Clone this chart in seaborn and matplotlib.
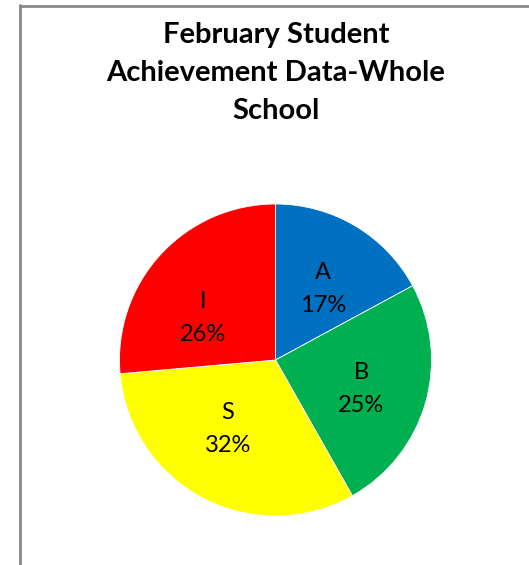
import matplotlib
matplotlib.use("Agg")
import numpy as np
import matplotlib.pyplot as plt
import seaborn as sns
from matplotlib.lines import Line2D

categories = ["A", "B", "S", "I"]
values = [17.1, 24.7, 31.8, 26.4]
colors = ["#0070C0", "#00B050", "#FFFF00", "#FF0000"]
title = "February Student\nAchievement Data-Whole\nSchool"

# label placement nudges (style): clockwise angle shift in degrees, radial distance
label_shift_deg = [3.0, 2.7, 6.7, -12.4]
label_dist = [0.547, 0.579, 0.537, 0.537]

sns.set_theme(style="white")
plt.rcParams["font.family"] = ["Lato", "DejaVu Sans"]
plt.rcParams["text.color"] = "black"

W, H = 529, 565
fig = plt.figure(figsize=(W / 100, H / 100), dpi=100)
fig.patch.set_facecolor("white")

R = 156
cx, cy = 275.5, 360
ax = fig.add_axes([(cx - R) / W, (H - cy - R) / H, 2 * R / W, 2 * R / H])

total = sum(values)
labels = [f"{c}\n{round(v * 100 / total)}%" for c, v in zip(categories, values)]
wedges, texts = ax.pie(values, colors=colors, startangle=90, counterclock=False,
                       labels=labels, labeldistance=0.56,
                       wedgeprops=dict(linewidth=0.6, edgecolor="white"),
                       textprops=dict(fontsize=17, color="black", ha="center", va="center",
                                      linespacing=1.7))
for w, t, dd, rr in zip(wedges, texts, label_shift_deg, label_dist):
    mid = np.deg2rad((w.theta1 + w.theta2) / 2 - dd)
    t.set_position((rr * np.cos(mid), rr * np.sin(mid)))

ax.set_xlim(-1, 1)
ax.set_ylim(-1, 1)
ax.set_aspect("equal")
ax.axis("off")

fig.text(276 / W, 1 - 73 / H, title, ha="center", va="center", fontsize=21,
         fontweight="bold", linespacing=1.58, color="black")

fig.add_artist(Line2D([20 / W, 20 / W], [0, 1 - 5 / H], transform=fig.transFigure,
                      color="#888888", linewidth=2))
fig.add_artist(Line2D([20 / W, 1], [1 - 6 / H, 1 - 6 / H], transform=fig.transFigure,
                      color="#888888", linewidth=2))

fig.savefig("out.png", dpi=100)
